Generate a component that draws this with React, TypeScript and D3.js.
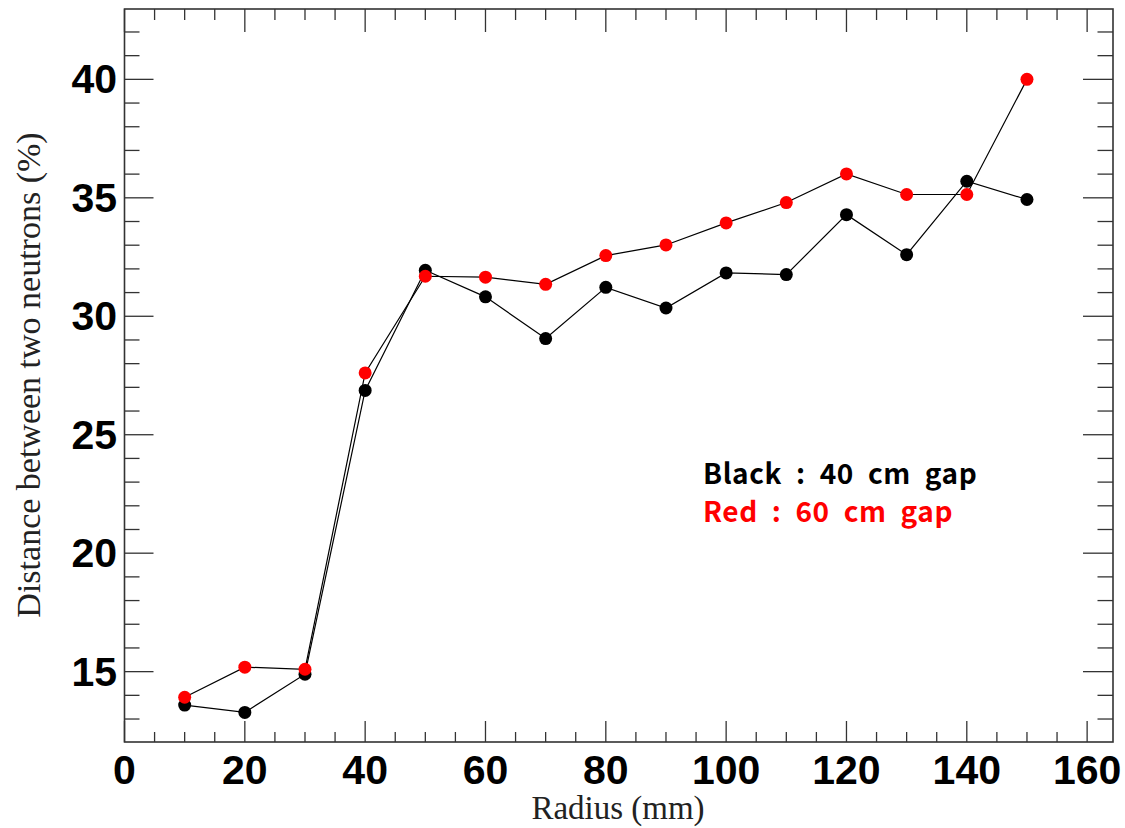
import * as d3 from 'd3';

const radius = [10, 20, 30, 40, 50, 60, 70, 80, 90, 100, 110, 120, 130, 140, 150];
const gap40 = [13.59, 13.28, 14.89, 26.87, 31.94, 30.82, 29.06, 31.22, 30.35, 31.83, 31.76, 34.29, 32.6, 35.7, 34.93];
const gap60 = [13.92, 15.19, 15.1, 27.61, 31.69, 31.65, 31.35, 32.56, 33.01, 33.94, 34.8, 36.01, 35.14, 35.14, 40.0];
const xTicks = [0, 20, 40, 60, 80, 100, 120, 140, 160];
const yTicks = [15, 20, 25, 30, 35, 40];

const W = 1125;
const H = 828;
const left = 124.5;
const right = 1113;
const top = 9;
const bottom = 742;

const App = () => {
  const x = d3.scaleLinear().domain([0, 164.3]).range([left, right]);
  const y = d3.scaleLinear().domain([12.03, 42.97]).range([bottom, top]);

  const xMinor = d3.range(0, 165, 5);
  const yMinor = d3.range(13, 43, 1);

  const line = d3.line<number>()
    .x((_, i) => x(radius[i]))
    .y(d => y(d));

  const axisColor = '#333';

  return (
    <svg width={W} height={H} style={{ position: 'absolute', left: 0, top: 0, background: '#fff' }}>
      {/* x ticks, bottom and top */}
      {xMinor.map(v => {
        const major = v % 20 === 0;
        return (
          <g key={'x' + v} stroke={axisColor} strokeWidth={1.3}>
            <line x1={x(v)} x2={x(v)} y1={bottom} y2={bottom - (major ? 21 : 10)} />
            <line x1={x(v)} x2={x(v)} y1={top} y2={top + (major ? 23 : 11)} />
          </g>
        );
      })}
      {/* y ticks, left and right */}
      {yMinor.map(v => {
        const major = v % 5 === 0;
        return (
          <g key={'y' + v} stroke={axisColor} strokeWidth={1.3}>
            <line x1={left} x2={left + (major ? 29 : 15)} y1={y(v)} y2={y(v)} />
            <line x1={right} x2={right - (major ? 30 : 15.5)} y1={y(v)} y2={y(v)} />
          </g>
        );
      })}
      <rect x={left} y={top} width={right - left} height={bottom - top}
        fill="none" stroke={axisColor} strokeWidth={1.6} />

      {xTicks.map(v => (
        <text key={'xl' + v} x={x(v)} y={784} textAnchor="middle"
          fontFamily="Liberation Sans, Arial, sans-serif" fontWeight="bold" fontSize={41}>{v}</text>
      ))}
      {yTicks.map(v => (
        <text key={'yl' + v} x={117} y={y(v)} textAnchor="end" dominantBaseline="central"
          fontFamily="Liberation Sans, Arial, sans-serif" fontWeight="bold" fontSize={41}>{v}</text>
      ))}

      <text x={618} y={819} textAnchor="middle" fontFamily="Liberation Serif, Times New Roman, serif"
        fontSize={33} fill="#222">Radius (mm)</text>
      <text transform={`translate(40, 375) rotate(-90)`} textAnchor="middle"
        fontFamily="Liberation Serif, Times New Roman, serif" fontSize={34} fill="#222">
        Distance between two neutrons (%)
      </text>

      <path d={line(gap40) || ''} fill="none" stroke="#000" strokeWidth={1.2} />
      <path d={line(gap60) || ''} fill="none" stroke="#000" strokeWidth={1.2} />
      {gap40.map((v, i) => (
        <circle key={'b' + i} cx={x(radius[i])} cy={y(v)} r={6.5} fill="#000" />
      ))}
      {gap60.map((v, i) => (
        <circle key={'r' + i} cx={x(radius[i])} cy={y(v)} r={6.5} fill="#ff0000" />
      ))}

      <text x={703} y={484} fontFamily="Noto Sans CJK KR, Noto Sans, sans-serif" fontWeight="bold"
        fontSize={28} wordSpacing={7} letterSpacing={0.6} fill="#000">Black : 40 cm gap</text>
      <text x={703} y={522} fontFamily="Noto Sans CJK KR, Noto Sans, sans-serif" fontWeight="bold"
        fontSize={28} wordSpacing={7} letterSpacing={0.6} fill="#ff0000">Red : 60 cm gap</text>
    </svg>
  );
};

export default App;
